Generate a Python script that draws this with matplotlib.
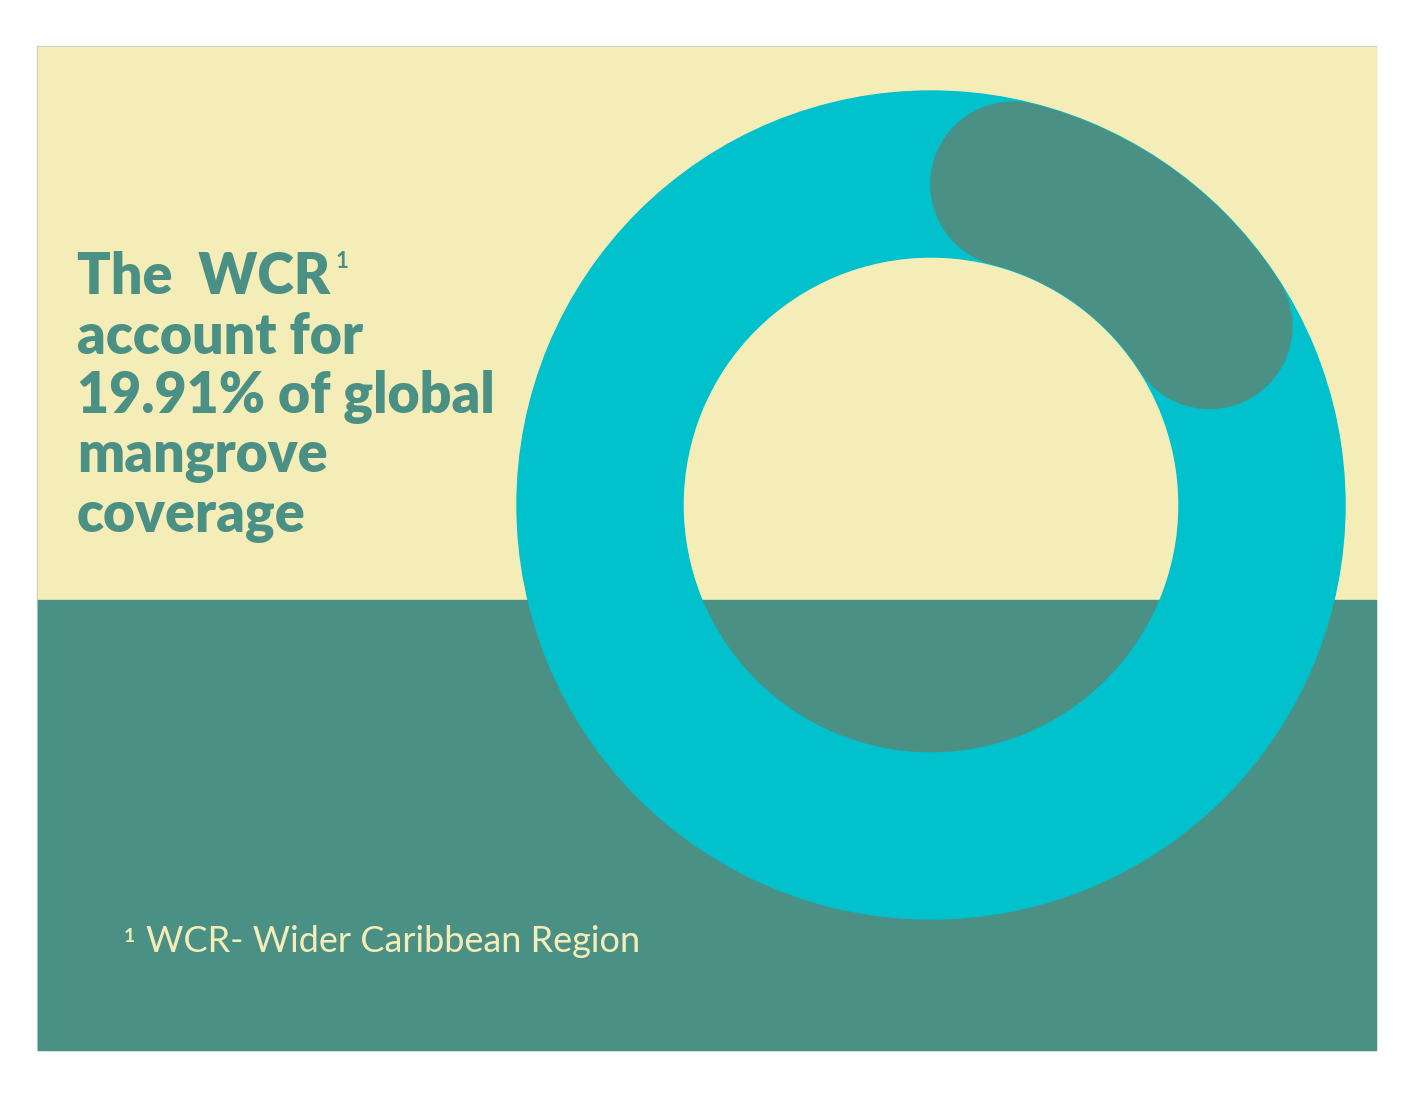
import numpy as np
import matplotlib.pyplot as plt
from matplotlib.patches import Rectangle, Wedge

# data
share = 19.91          # % of global mangrove coverage in the WCR
title_lines = ["The  WCR", "account for", "19.91% of global", "mangrove", "coverage"]
footnote = "WCR- Wider Caribbean Region"

cream = "#F5EDB8"
teal = "#4A9085"
cyan = "#00C1CC"

W, H = 1414, 1117
fig = plt.figure(figsize=(W / 100, H / 100), dpi=100)
ax = fig.add_axes([0, 0, 1, 1])
ax.set_xlim(0, W)
ax.set_ylim(H, 0)
ax.set_aspect("equal")
ax.axis("off")

# background panel
ax.add_patch(Rectangle((37, 46), 1339, 1004, color="#C8C8C8", zorder=0))
ax.add_patch(Rectangle((38, 47), 1338, 553, color=cream, zorder=1))
ax.add_patch(Rectangle((38, 600), 1338, 450, color=teal, zorder=1))

# donut ring
cx, cy = 931, 505
r_out, r_in = 414, 248
ax.add_patch(Wedge((cx, cy), r_out, 0, 360, width=r_out - r_in, color=cyan, zorder=2))

# highlighted arc with round caps (clockwise from top)
r_mid = (r_out + r_in) / 2
band = r_out - r_in
cap = np.degrees((band / 2) / r_mid)
sweep = share / 100 * 360
ang = np.radians(90 - np.linspace(cap, sweep - cap, 200))
ax.plot(cx + r_mid * np.cos(ang), cy - r_mid * np.sin(ang), color=teal,
        lw=band * 72 / 100, solid_capstyle="round", zorder=3)

# title text
for i, line in enumerate(title_lines):
    ax.text(77, 277 + i * 60, line, color=teal, fontsize=40, fontweight="heavy",
            family="Lato", va="center", ha="left", zorder=4)
ax.text(336, 262, "1", color=teal, fontsize=16, fontweight="bold",
        family="Lato", va="center", ha="left", zorder=4)

# footnote
ax.text(124, 936, "1", color=cream, fontsize=14, fontweight="bold",
        family="Lato", va="center", ha="left", zorder=4)
ax.text(146, 941, footnote, color=cream, fontsize=26,
        family="Lato", va="center", ha="left", zorder=4)

plt.savefig("out.png", dpi=100)
